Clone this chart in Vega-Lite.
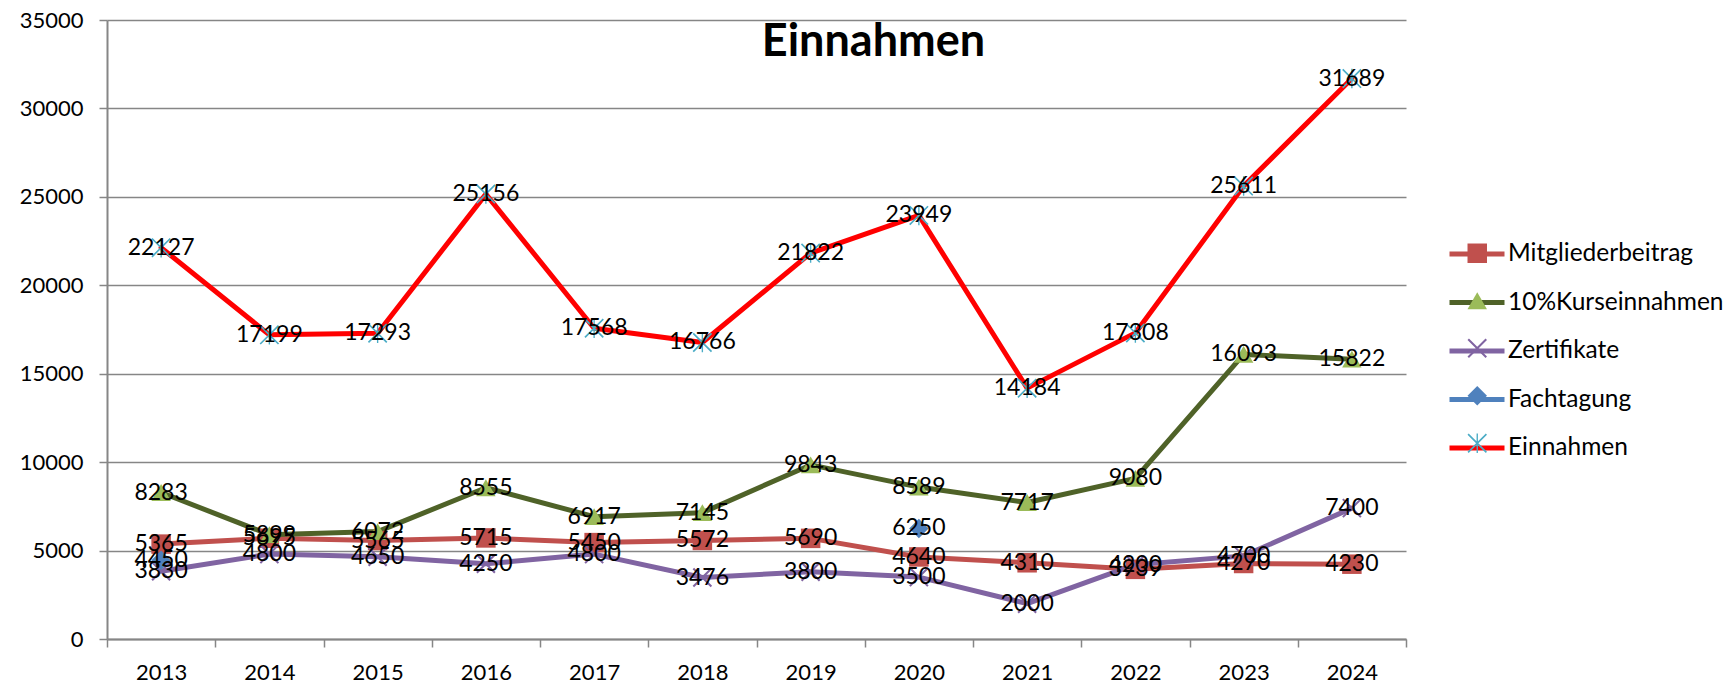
{
  "$schema": "https://vega.github.io/schema/vega-lite/v6.json",
  "autosize": {"type": "none"},
  "width": 1299,
  "height": 619,
  "padding": {"left": 107, "top": 20, "right": 327, "bottom": 47},
  "background": "white",
  "config": {"view": {"stroke": null}, "font": "Lato"},
  "title": {
    "text": "Einnahmen",
    "font": "Lato",
    "fontWeight": "bold",
    "fontSize": 45,
    "color": "black",
    "anchor": "middle",
    "frame": "group",
    "dx": 117,
    "baseline": "alphabetic",
    "offset": -92
  },
  "data": {
    "values": [
      {"year": "2013", "series": "Mitgliederbeitrag", "value": 5365},
      {"year": "2014", "series": "Mitgliederbeitrag", "value": 5695},
      {"year": "2015", "series": "Mitgliederbeitrag", "value": 5565},
      {"year": "2016", "series": "Mitgliederbeitrag", "value": 5715},
      {"year": "2017", "series": "Mitgliederbeitrag", "value": 5450},
      {"year": "2018", "series": "Mitgliederbeitrag", "value": 5572},
      {"year": "2019", "series": "Mitgliederbeitrag", "value": 5690},
      {"year": "2020", "series": "Mitgliederbeitrag", "value": 4640},
      {"year": "2021", "series": "Mitgliederbeitrag", "value": 4310},
      {"year": "2022", "series": "Mitgliederbeitrag", "value": 3939},
      {"year": "2023", "series": "Mitgliederbeitrag", "value": 4270},
      {"year": "2024", "series": "Mitgliederbeitrag", "value": 4230},
      {"year": "2013", "series": "10%Kurseinnahmen", "value": 8283},
      {"year": "2014", "series": "10%Kurseinnahmen", "value": 5899},
      {"year": "2015", "series": "10%Kurseinnahmen", "value": 6072},
      {"year": "2016", "series": "10%Kurseinnahmen", "value": 8555},
      {"year": "2017", "series": "10%Kurseinnahmen", "value": 6917},
      {"year": "2018", "series": "10%Kurseinnahmen", "value": 7145},
      {"year": "2019", "series": "10%Kurseinnahmen", "value": 9843},
      {"year": "2020", "series": "10%Kurseinnahmen", "value": 8589},
      {"year": "2021", "series": "10%Kurseinnahmen", "value": 7717},
      {"year": "2022", "series": "10%Kurseinnahmen", "value": 9080},
      {"year": "2023", "series": "10%Kurseinnahmen", "value": 16093},
      {"year": "2024", "series": "10%Kurseinnahmen", "value": 15822},
      {"year": "2013", "series": "Zertifikate", "value": 3830},
      {"year": "2014", "series": "Zertifikate", "value": 4800},
      {"year": "2015", "series": "Zertifikate", "value": 4650},
      {"year": "2016", "series": "Zertifikate", "value": 4250},
      {"year": "2017", "series": "Zertifikate", "value": 4800},
      {"year": "2018", "series": "Zertifikate", "value": 3476},
      {"year": "2019", "series": "Zertifikate", "value": 3800},
      {"year": "2020", "series": "Zertifikate", "value": 3500},
      {"year": "2021", "series": "Zertifikate", "value": 2000},
      {"year": "2022", "series": "Zertifikate", "value": 4200},
      {"year": "2023", "series": "Zertifikate", "value": 4700},
      {"year": "2024", "series": "Zertifikate", "value": 7400},
      {"year": "2013", "series": "Fachtagung", "value": 4450},
      {"year": "2020", "series": "Fachtagung", "value": 6250},
      {"year": "2013", "series": "Einnahmen", "value": 22127},
      {"year": "2014", "series": "Einnahmen", "value": 17199},
      {"year": "2015", "series": "Einnahmen", "value": 17293},
      {"year": "2016", "series": "Einnahmen", "value": 25156},
      {"year": "2017", "series": "Einnahmen", "value": 17568},
      {"year": "2018", "series": "Einnahmen", "value": 16766},
      {"year": "2019", "series": "Einnahmen", "value": 21822},
      {"year": "2020", "series": "Einnahmen", "value": 23949},
      {"year": "2021", "series": "Einnahmen", "value": 14184},
      {"year": "2022", "series": "Einnahmen", "value": 17308},
      {"year": "2023", "series": "Einnahmen", "value": 25611},
      {"year": "2024", "series": "Einnahmen", "value": 31689}
    ]
  },
  "encoding": {
    "x": {
      "field": "year",
      "type": "ordinal",
      "bandPosition": 0.5,
      "scale": {"type": "band", "paddingInner": 0, "paddingOuter": 0},
      "axis": {
        "title": null,
        "labelAngle": 0,
        "labelFont": "Lato",
        "labelFontSize": 22,
        "labelColor": "black",
        "labelPadding": 15,
        "tickBand": "extent",
        "tickSize": 8,
        "tickColor": "#868686",
        "tickWidth": 1.5,
        "domainColor": "#868686",
        "domainWidth": 2,
        "grid": false
      }
    },
    "y": {
      "field": "value",
      "type": "quantitative",
      "scale": {"domain": [0, 35000], "nice": false},
      "axis": {
        "title": null,
        "format": "d",
        "values": [0, 5000, 10000, 15000, 20000, 25000, 30000, 35000],
        "labelFont": "Lato",
        "labelFontSize": 22,
        "labelColor": "black",
        "labelPadding": 16,
        "tickSize": 8,
        "tickColor": "#868686",
        "tickWidth": 1.5,
        "domainColor": "#868686",
        "domainWidth": 2,
        "grid": true,
        "gridColor": "#868686",
        "gridWidth": 1.5
      }
    }
  },
  "layer": [
    {
      "transform": [{"filter": "datum.series !== 'Fachtagung'"}],
      "mark": {"type": "line", "strokeWidth": 5, "strokeCap": "round", "strokeJoin": "round"},
      "encoding": {
        "color": {
          "field": "series",
          "type": "nominal",
          "scale": {
            "domain": ["Mitgliederbeitrag", "10%Kurseinnahmen", "Zertifikate", "Fachtagung", "Einnahmen"],
            "range": ["#C0504D", "#4F6228", "#8064A2", "#4F81BD", "#FF0000"]
          },
          "legend": {
            "title": null,
            "orient": "none",
            "legendX": 1340,
            "legendY": 204,
            "symbolType": "stroke",
            "symbolSize": 3025,
            "symbolStrokeWidth": 5,
            "labelFont": "Lato",
            "labelFontSize": 24.5,
            "labelColor": "black",
            "labelLimit": 400,
            "labelOffset": 1,
            "rowPadding": 6.5
          }
        }
      }
    },
    {
      "mark": {"type": "point", "filled": true, "opacity": 1, "size": 380, "strokeWidth": 0},
      "encoding": {
        "fill": {
          "field": "series",
          "type": "nominal",
          "scale": {
            "domain": ["Mitgliederbeitrag", "10%Kurseinnahmen", "Zertifikate", "Fachtagung", "Einnahmen", "-"],
            "range": ["#C0504D", "#9BBB59", "#8064A2", "#4F81BD", "#4BACC6", "#ffffff"]
          },
          "legend": {
            "title": null,
            "orient": "none",
            "legendX": 1358,
            "legendY": 221,
            "values": ["Mitgliederbeitrag", "10%Kurseinnahmen", "Zertifikate", "Fachtagung", "Einnahmen"],
            "symbolSize": 380,
            "symbolStrokeWidth": 0,
            "labelFont": "Lato",
            "labelFontSize": 24.5,
            "labelLimit": 400,
            "labelColor": "rgba(0,0,0,0)",
            "labelOffset": 25,
            "rowPadding": 22.5
          }
        },
        "shape": {
          "field": "series",
          "type": "nominal",
          "scale": {
            "domain": ["Mitgliederbeitrag", "10%Kurseinnahmen", "Zertifikate", "Fachtagung", "Einnahmen", "-"],
            "range": [
              "square",
              "triangle-up",
              "M-1,-0.85L-0.85,-1L1,0.85L0.85,1ZM0.85,-1L1,-0.85L-0.85,1L-1,0.85Z",
              "diamond",
              "M-1,-0.88L-0.88,-1L1,0.88L0.88,1ZM0.88,-1L1,-0.88L-0.88,1L-1,0.88ZM-0.07,-1L0.07,-1L0.07,1L-0.07,1Z",
              "circle"
            ]
          },
          "legend": {
            "title": null,
            "orient": "none",
            "legendX": 1358,
            "legendY": 221,
            "values": ["Mitgliederbeitrag", "10%Kurseinnahmen", "Zertifikate", "Fachtagung", "Einnahmen"],
            "symbolSize": 380,
            "symbolStrokeWidth": 0,
            "labelFont": "Lato",
            "labelFontSize": 24.5,
            "labelLimit": 400,
            "labelColor": "rgba(0,0,0,0)",
            "labelOffset": 25,
            "rowPadding": 22.5
          }
        }
      }
    },
    {
      "mark": {"type": "text", "font": "Lato", "fontSize": 23, "color": "black", "align": "center", "baseline": "middle"},
      "encoding": {
        "text": {"field": "value", "type": "quantitative", "format": "d"}
      }
    }
  ]
}
